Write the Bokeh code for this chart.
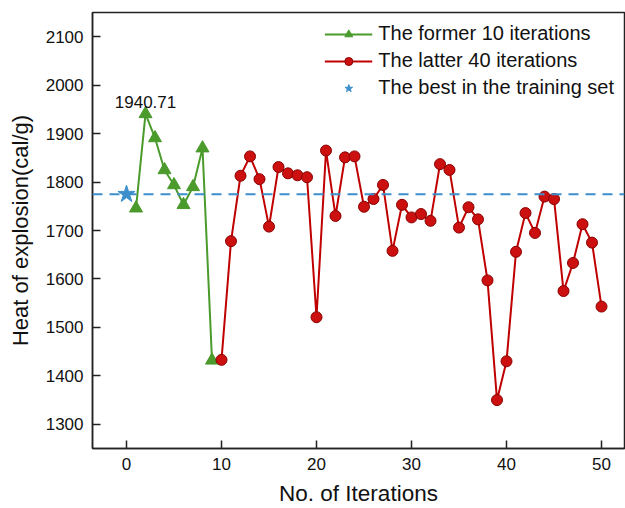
from bokeh.plotting import figure
from bokeh.models import Span, Label, Legend, LegendItem, FixedTicker, Range1d
from bokeh.embed import file_html
from bokeh.resources import INLINE

# ---- data ----
former_x = [1, 2, 3, 4, 5, 6, 7, 8, 9]
former_y = [1746, 1940.71, 1891, 1825, 1794, 1753, 1790, 1870, 1432]

latter_x = list(range(10, 51))
latter_y = [1433, 1678, 1813, 1853, 1806, 1708, 1831, 1818, 1814, 1810,
            1521, 1865, 1730, 1851, 1853, 1749, 1765, 1794, 1658, 1753,
            1727, 1734, 1720, 1837, 1825, 1706, 1748, 1723, 1597, 1350,
            1430, 1656, 1736, 1695, 1770, 1765, 1575, 1633, 1713, 1675,
            1543]

best_x = [0]
best_y = [1775]

peak_label = "1940.71"
peak_x = 2
peak_y = 1940.71

x_ticks = [0, 10, 20, 30, 40, 50]
y_ticks = [1300, 1400, 1500, 1600, 1700, 1800, 1900, 2000, 2100]

GREEN = "#4a9a2c"
RED = "#c00000"
BLUE = "#3d8fcb"
FONT = "Liberation Sans"

p = figure(width=625, height=508, output_backend="svg", toolbar_location=None,
           x_range=Range1d(-3.58, 52.42), y_range=Range1d(1250, 2150),
           min_border_left=92, min_border_top=12, min_border_right=1,
           min_border_bottom=60)

p.xgrid.visible = False
p.ygrid.visible = False
p.outline_line_color = "#222222"
p.outline_line_width = 1.5
p.background_fill_color = "white"
p.border_fill_color = "white"

# dashed reference line at the best training value
p.add_layout(Span(location=best_y[0], dimension="width", line_color=BLUE,
                  line_width=2, line_dash="10 7"))

g_line = p.line(former_x, former_y, line_color=GREEN, line_width=2)
g_mark = p.scatter(former_x, former_y, marker="triangle", size=13,
                   fill_color=GREEN, line_color=GREEN)

r_line = p.line(latter_x, latter_y, line_color=RED, line_width=2)
r_mark = p.scatter(latter_x, latter_y, marker="circle", size=11,
                   fill_color="#cc1010", line_color="#8a0000", line_width=1)

b_mark = p.scatter(best_x, best_y, marker="star", size=18,
                   fill_color=BLUE, line_color=BLUE)

p.add_layout(Label(x=peak_x, y=peak_y, text=peak_label, y_offset=12,
                   text_align="center", text_baseline="alphabetic",
                   text_font=FONT, text_font_size="17px", text_color="#111111"))

legend = Legend(items=[
    LegendItem(label="The former 10 iterations", renderers=[g_line, g_mark]),
    LegendItem(label="The latter 40 iterations", renderers=[r_line, r_mark]),
    LegendItem(label="The best in the training set", renderers=[b_mark]),
], location="top_right")
legend.border_line_color = None
legend.background_fill_alpha = 0
legend.label_text_font = FONT
legend.label_text_font_size = "20px"
legend.label_text_color = "#111111"
legend.glyph_width = 48
legend.glyph_height = 20
legend.label_standoff = 6
legend.spacing = 4
legend.padding = 4
legend.margin = 10
legend.label_height = 20
p.add_layout(legend)

for ax in (p.xaxis[0], p.yaxis[0]):
    ax.axis_line_color = "#222222"
    ax.axis_line_width = 1.5
    ax.major_tick_line_color = "#222222"
    ax.major_tick_line_width = 1.5
    ax.major_tick_in = 8
    ax.major_tick_out = 0
    ax.minor_tick_line_color = None
    ax.major_label_text_font = FONT
    ax.major_label_text_font_size = "17px"
    ax.major_label_text_color = "#111111"
    ax.axis_label_text_font = FONT
    ax.axis_label_text_font_style = "normal"
    ax.axis_label_text_color = "#111111"

p.xaxis.ticker = FixedTicker(ticks=x_ticks)
p.yaxis.ticker = FixedTicker(ticks=y_ticks)
p.xaxis.axis_label = "No. of Iterations"
p.yaxis.axis_label = "Heat of explosion(cal/g)"
p.xaxis.axis_label_text_font_size = "22.5px"
p.yaxis.axis_label_text_font_size = "22px"
p.xaxis.major_label_standoff = 9
p.xaxis.axis_label_standoff = 8
p.yaxis.major_label_standoff = 9
p.yaxis.axis_label_standoff = 10

open("out.html", "w").write(file_html(p, INLINE))
